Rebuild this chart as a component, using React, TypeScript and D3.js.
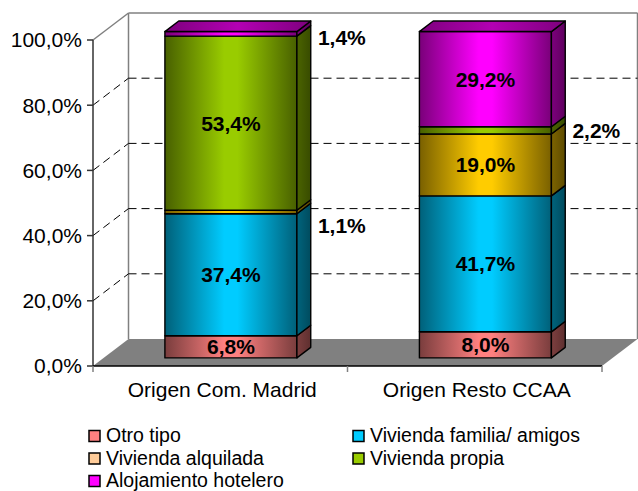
import React from 'react';
import * as d3 from 'd3';

// chart data
const categories = ["Origen Com. Madrid", "Origen Resto CCAA"];
const seriesNames = ["Otro tipo", "Vivienda familia/ amigos", "Vivienda alquilada", "Vivienda propia", "Alojamiento hotelero"];
const madridValues = [6.8, 37.4, 1.1, 53.4, 1.4];
const restoValues = [8.0, 41.7, 19.0, 2.2, 29.2];
const barColors = ["#FF8080", "#00CCFF", "#FFCC00", "#99CC00", "#FF00FF"];
const legendColors = ["#FF8080", "#00CCFF", "#FFCC99", "#99CC00", "#FF00FF"];
const yTicks = [0, 20, 40, 60, 80, 100];

const width = 638;
const height = 491;
const font = "'Liberation Sans', Arial, sans-serif";

const chartStyle = {
  plot: { left: 93, right: 602, top: 40, bottom: 366 },
  depthX: 35.5,
  depthY: -27,
  barFront: 0.3,
  barBack: 0.69,
  barWidth: 132,
  gridDash: "8,5",
  wallColor: "#808080",
  floorColor: "#808080",
  fontSize: 21,
  legendFontSize: 19.5,
};

// small values get their label beside the bar
const outsideNudge: Record<string, number> = {
  "Origen Com. Madrid|Vivienda alquilada": 14,
  "Origen Com. Madrid|Alojamiento hotelero": 4,
  "Origen Resto CCAA|Vivienda propia": 0,
};

const locale = d3.formatLocale({ decimal: ",", thousands: ".", grouping: [3], currency: ["", "€"] });
const fmt = locale.format(".1f");

const rows = categories.map((c, i) => {
  const r: Record<string, any> = { cat: c };
  const vals = i === 0 ? madridValues : restoValues;
  seriesNames.forEach((s, j) => (r[s] = vals[j]));
  return r;
});

const App: React.FC = () => {
  const { plot, depthX: DX, depthY: DY } = chartStyle;

  const xScale = d3.scaleBand<string>().domain(categories).range([plot.left, plot.right]);
  const yScale = d3.scaleLinear().domain([0, 100]).range([plot.bottom, plot.top]);

  const stacked = d3.stack<Record<string, any>>().keys(seriesNames)(rows);

  const bw = xScale.bandwidth();
  const fx = chartStyle.barFront * DX;
  const fy = chartStyle.barFront * DY;
  const bdx = (chartStyle.barBack - chartStyle.barFront) * DX;
  const bdy = (chartStyle.barBack - chartStyle.barFront) * DY;

  const backLeft = plot.left + DX;
  const backRight = plot.right + DX;

  const pts = (p: number[][]) => p.map(q => q.join(",")).join(" ");

  const bars: React.ReactNode[] = [];
  const labels: React.ReactNode[] = [];

  categories.forEach((cat, ci) => {
    const x0 = (xScale(cat) as number) + (bw - chartStyle.barWidth) / 2 + fx;
    const x1 = x0 + chartStyle.barWidth;
    stacked.forEach((layer, si) => {
      const [v0, v1] = layer[ci];
      const yb = yScale(v0) + fy;
      const yt = yScale(v1) + fy;
      const isTop = si === stacked.length - 1;
      bars.push(
        <g key={`${ci}-${si}`} stroke="#000" strokeWidth={1.4} strokeLinejoin="round">
          <rect x={x0} y={yt} width={x1 - x0} height={yb - yt} fill={`url(#front${si})`} />
          <polygon
            points={pts([[x1, yb], [x1 + bdx, yb + bdy], [x1 + bdx, yt + bdy], [x1, yt]])}
            fill={`url(#side${si})`}
          />
          {isTop && (
            <polygon
              points={pts([[x0, yt], [x0 + bdx, yt + bdy], [x1 + bdx, yt + bdy], [x1, yt]])}
              fill={`url(#top${si})`}
            />
          )}
        </g>
      );
      const v = v1 - v0;
      const key = `${cat}|${seriesNames[si]}`;
      const txt = fmt(v) + "%";
      if (key in outsideNudge) {
        labels.push(
          <text key={`l${ci}-${si}`} x={x1 + 21} y={(yb + yt) / 2 + outsideNudge[key]} dy="0.35em"
            fontWeight="bold" fontSize={chartStyle.fontSize} fontFamily={font}>{txt}</text>
        );
      } else {
        labels.push(
          <text key={`l${ci}-${si}`} x={(x0 + x1) / 2} y={(yb + yt) / 2} dy="0.35em" textAnchor="middle"
            fontWeight="bold" fontSize={chartStyle.fontSize} fontFamily={font}>{txt}</text>
        );
      }
    });
  });

  return (
    <svg width={width} height={height} style={{ position: "absolute", left: 0, top: 0, background: "#fff" }}>
      <defs>
        {barColors.map((c, i) => {
          const col = d3.color(c)!;
          return (
            <React.Fragment key={i}>
              <linearGradient id={`front${i}`} x1="0" x2="1" y1="0" y2="0">
                <stop offset="0" stopColor={col.darker(2.1).formatHex()} />
                <stop offset="0.45" stopColor={c} />
                <stop offset="0.55" stopColor={c} />
                <stop offset="1" stopColor={col.darker(2.1).formatHex()} />
              </linearGradient>
              <linearGradient id={`side${i}`} x1="0" x2="1" y1="0" y2="0">
                <stop offset="0" stopColor={col.darker(2).formatHex()} />
                <stop offset="1" stopColor={col.darker(2.8).formatHex()} />
              </linearGradient>
              <linearGradient id={`top${i}`} x1="0" x2="1" y1="0" y2="0">
                <stop offset="0" stopColor={col.darker(2).formatHex()} />
                <stop offset="0.5" stopColor={col.darker(1).formatHex()} />
                <stop offset="1" stopColor={col.darker(2).formatHex()} />
              </linearGradient>
            </React.Fragment>
          );
        })}
      </defs>

      {/* floor */}
      <polygon
        points={pts([[plot.left, plot.bottom], [plot.right, plot.bottom], [backRight, plot.bottom + DY], [backLeft, plot.bottom + DY]])}
        fill={chartStyle.floorColor}
      />

      {/* walls */}
      <g stroke={chartStyle.wallColor} strokeWidth={1.5} fill="none">
        <line x1={backLeft} x2={backRight} y1={plot.top + DY} y2={plot.top + DY} />
        <line x1={backLeft} x2={backLeft} y1={plot.top + DY} y2={plot.bottom + DY} />
        <line x1={backRight} x2={backRight} y1={plot.top + DY} y2={plot.bottom + DY} />
        <line x1={plot.left} x2={backLeft} y1={plot.top} y2={plot.top + DY} />
      </g>
      <line x1={backRight + 1.5} x2={backRight + 1.5} y1={plot.top + DY + 1} y2={plot.bottom + DY} stroke="#c0c0c0" strokeWidth={1} />

      {/* gridlines */}
      <g stroke="#000" strokeWidth={1} strokeDasharray={chartStyle.gridDash}>
        {yTicks.filter(t => t > 0 && t < 100).map(t => (
          <g key={t}>
            <line x1={backLeft} x2={backRight} y1={yScale(t) + DY} y2={yScale(t) + DY} />
            <line x1={plot.left} x2={backLeft} y1={yScale(t)} y2={yScale(t) + DY} />
          </g>
        ))}
      </g>

      {/* axes */}
      <g stroke="#333" strokeWidth={1.5}>
        <line x1={plot.left} x2={plot.left} y1={plot.top} y2={plot.bottom} />
        <line x1={plot.left} x2={plot.right} y1={plot.bottom} y2={plot.bottom} stroke="#000" />
        {yTicks.map(t => (
          <line key={t} x1={plot.left - 6} x2={plot.left} y1={yScale(t)} y2={yScale(t)} />
        ))}
        {[...categories.map(c => xScale(c) as number), plot.right].map((x, i) => (
          <line key={i} x1={x} x2={x} y1={plot.bottom} y2={plot.bottom + 6} stroke="#808080" />
        ))}
      </g>
      <g fontFamily={font} fontSize={chartStyle.fontSize} fill="#000">
        {yTicks.map(t => (
          <text key={t} x={plot.left - 11} y={yScale(t)} dy="0.35em" textAnchor="end">{fmt(t)}%</text>
        ))}
        {categories.map(c => (
          <text key={c} x={(xScale(c) as number) + bw / 2 + 2} y={397} textAnchor="middle">{c}</text>
        ))}
      </g>

      {bars}
      {labels}

      {/* legend */}
      <g fontFamily={font} fontSize={chartStyle.legendFontSize}>
        {seriesNames.map((s, i) => {
          const col = i % 2;
          const row = Math.floor(i / 2);
          const sx = col === 0 ? 89 : 353;
          const cy = 436 + row * 22.5;
          return (
            <g key={s}>
              <rect x={sx} y={cy - 5.5} width={11} height={11} fill={legendColors[i]} stroke="#000" strokeWidth={1.5} />
              <text x={sx + 17} y={cy} dy="0.33em">{s}</text>
            </g>
          );
        })}
      </g>
    </svg>
  );
};

export default App;
